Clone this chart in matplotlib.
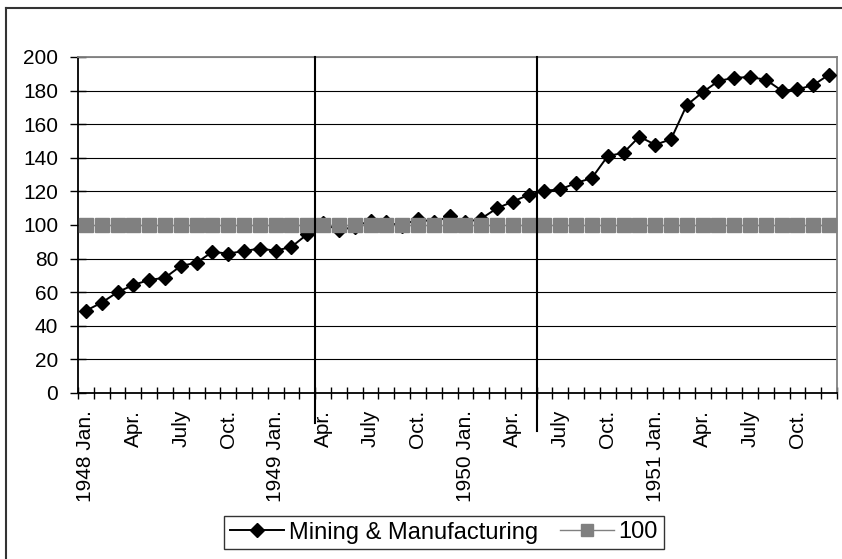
import numpy as np
import matplotlib.pyplot as plt
from matplotlib.lines import Line2D

plt.rcParams['font.family'] = ['Liberation Sans', 'DejaVu Sans']

# monthly index, 1948 Jan. .. 1951 Dec.
months = ['1948 Jan.', '', '', 'Apr.', '', '', 'July', '', '', 'Oct.', '', '',
          '1949 Jan.', '', '', 'Apr.', '', '', 'July', '', '', 'Oct.', '', '',
          '1950 Jan.', '', '', 'Apr.', '', '', 'July', '', '', 'Oct.', '', '',
          '1951 Jan.', '', '', 'Apr.', '', '', 'July', '', '', 'Oct.', '', '']
mining = [49, 53.8, 60, 64.3, 67.3, 68.6, 75.6, 77.6, 84, 83, 84.5, 86,
          84.7, 87, 94.5, 101, 96.8, 99, 102.6, 101.6, 99.5, 103.8, 101.6, 105.2,
          101.6, 103.8, 110, 113.9, 118, 120.4, 121.2, 125, 128, 141, 143, 152.6,
          147.8, 151, 171.4, 179, 185.7, 187.7, 188, 186.5, 180, 180.7, 183.3, 189.5]
base = [100] * len(months)
# months after which a vertical divider is drawn (Mar. 1949, May 1950)
dividers = [14, 28]

x = np.arange(len(months))

fig = plt.figure(figsize=(8.42, 5.59), dpi=100)
ax = fig.add_axes([78 / 842, 166 / 559, 759 / 842, 336 / 559])

ax.plot(x, mining, color='black', lw=1.4, marker='D', markersize=7,
        markerfacecolor='black', markeredgecolor='black', zorder=3,
        label='Mining & Manufacturing')
ax.plot(x, base, color='#808080', lw=1, marker='s', markersize=10,
        markerfacecolor='#808080', markeredgecolor='#808080', zorder=4,
        label='100')

for d in dividers:
    ax.plot([d + 0.5, d + 0.5], [200, -18 - 4.5 * (d > 20)], color='black',
            lw=1.5, clip_on=False, zorder=5)

ax.set_xlim(-0.5, len(months) - 0.5)
ax.set_ylim(0, 200)

# y axis
ax.set_yticks(np.arange(0, 201, 20))
ax.tick_params(axis='y', direction='inout', length=11.5, width=1, pad=8.6,
               labelsize=15, color='black')
ax.yaxis.grid(True, color='black', lw=0.8)
ax.yaxis.get_gridlines()[-1].set_color('#808080')

# x axis: ticks on boundaries, labels centred on months
ax.set_xticks(np.arange(-0.5, len(months), 1))
ax.set_xticklabels([])
ax.tick_params(axis='x', which='major', direction='inout', length=8, width=1)
ax.set_xticks(x, minor=True)
ax.set_xticklabels(months, minor=True, rotation=90, fontsize=15)
ax.tick_params(axis='x', which='minor', length=0, pad=12.2)

for s in ['left', 'bottom']:
    ax.spines[s].set_color('black')
    ax.spines[s].set_linewidth(1.3)
for s in ['top', 'right']:
    ax.spines[s].set_color('#808080')
    ax.spines[s].set_linewidth(1.3)

handles = [
    Line2D([], [], color='black', lw=1.4, marker='D', markersize=7),
    Line2D([], [], color='#808080', lw=1, marker='s', markersize=9),
]
leg = fig.legend(handles, ['Mining & Manufacturing', '100'], ncol=2,
                 loc='center', bbox_to_anchor=(444 / 842, 26.5 / 559),
                 fontsize=17, frameon=True, fancybox=False, handlelength=2.3,
                 handletextpad=0.2, columnspacing=0.9, borderpad=0.25,
                 borderaxespad=0)
leg.get_frame().set_edgecolor('black')
leg.get_frame().set_linewidth(1)

# outer chart border (top and left only, as in the crop)
fig.add_artist(Line2D([6 / 842, 6 / 842], [0, 551 / 559], color='#333333',
                      lw=1.5, transform=fig.transFigure))
fig.add_artist(Line2D([6 / 842, 1], [551 / 559, 551 / 559], color='#333333',
                      lw=1.5, transform=fig.transFigure))

fig.savefig('out.png', dpi=100)
